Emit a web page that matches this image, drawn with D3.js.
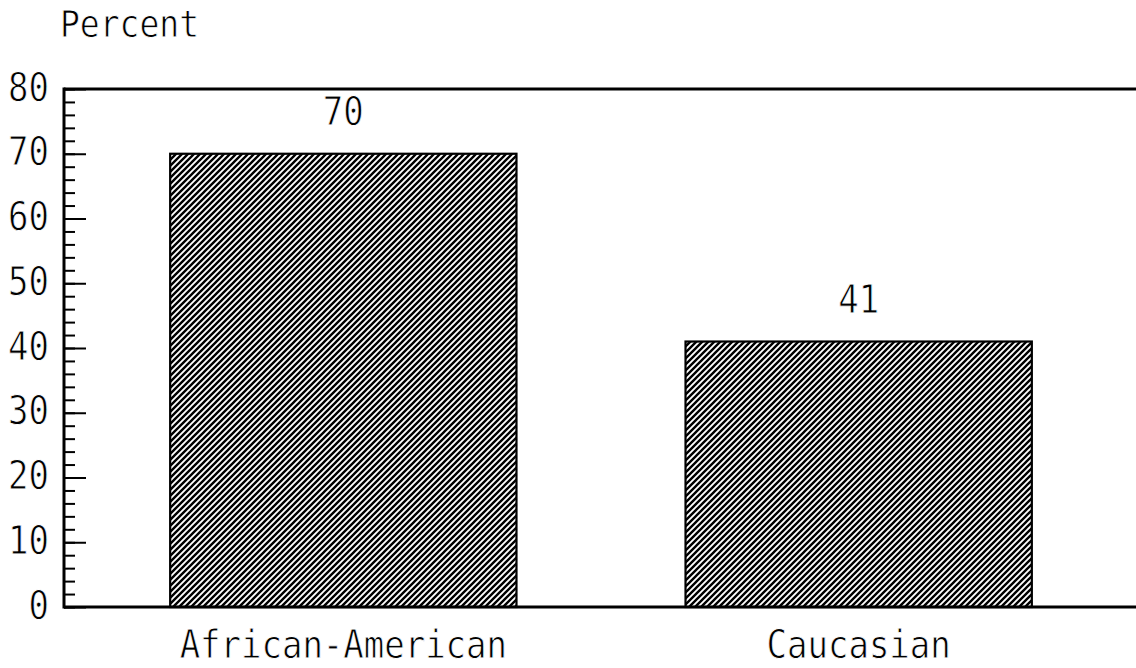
<!DOCTYPE html>
<html>
<head>
<meta charset="utf-8">
<script src="https://cdn.jsdelivr.net/npm/d3@7"></script>
<style>
  html, body { margin: 0; padding: 0; background: #fff; }
  svg { display: block; }
  text { font-family: "DejaVu Sans Mono", monospace; fill: #000; stroke: #fff; stroke-width: 0.7px; }
</style>
</head>
<body>
<svg id="chart" width="1136" height="668"></svg>
<script>
const categories = ["African-American", "Caucasian"];
const values = [70, 41];
const yTicks = [0, 10, 20, 30, 40, 50, 60, 70, 80];
const yMinorTicks = d3.range(0, 81, 2);
const yLabel = "Percent";

const svg = d3.select("#chart");
const W = 1136, H = 668;
const padL = 64, plotR = 1136, plotT = 89, plotB = 607;
const stretch = 1.14;
const fs = 34;

const y = d3.scaleLinear().domain([0, 80]).range([plotB, plotT]);
const x = d3.scaleBand().domain(categories).range([padL, plotR + 2])
  .paddingInner(0.328).paddingOuter(0.206);

// hatch pattern
const P = 6;
const defs = svg.append("defs");
const pat = defs.append("pattern").attr("id", "hatch")
  .attr("patternUnits", "userSpaceOnUse").attr("width", P).attr("height", P);
pat.append("rect").attr("width", P).attr("height", P).attr("fill", "#fff");
pat.append("path").attr("d", `M-1,${P+1} L${P+1},-1 M-2,2 L2,-2 M${P-2},${P+2} L${P+2},${P-2}`)
  .attr("stroke", "#000").attr("stroke-width", 2.4);

// bars
svg.append("g").selectAll("rect").data(categories).join("rect")
  .attr("x", d => x(d))
  .attr("y", (d, i) => y(values[i]))
  .attr("width", x.bandwidth())
  .attr("height", (d, i) => y(0) - y(values[i]))
  .attr("fill", "url(#hatch)")
  .attr("stroke", "#000").attr("stroke-width", 2.2);

// value labels
svg.append("g").selectAll("text").data(categories).join("text")
  .attr("transform", (d, i) => `translate(${x(d) + x.bandwidth() / 2},${y(values[i]) - 29}) scale(1,${stretch})`)
  .attr("text-anchor", "middle")
  .attr("font-size", fs)
  .text((d, i) => values[i]);

// minor ticks (pointing inward)
const minorAxis = svg.append("g").attr("transform", `translate(${padL},0)`)
  .call(d3.axisRight(y).tickValues(yMinorTicks).tickSize(11).tickFormat(""));
minorAxis.select(".domain").remove();
minorAxis.selectAll("line").attr("stroke", "#000").attr("stroke-width", 2);

// major ticks (pointing inward)
const majorAxis = svg.append("g").attr("transform", `translate(${padL},0)`)
  .call(d3.axisRight(y).tickValues(yTicks).tickSize(22).tickFormat(""));
majorAxis.select(".domain").remove();
majorAxis.selectAll("line").attr("stroke", "#000").attr("stroke-width", 2);

// tick labels
const labelAxis = svg.append("g").attr("transform", `translate(${padL},0)`)
  .call(d3.axisLeft(y).tickValues(yTicks).tickSize(0).tickPadding(15).tickFormat(d3.format("d")));
labelAxis.select(".domain").remove();
labelAxis.selectAll("text")
  .attr("font-family", "DejaVu Sans Mono, monospace")
  .attr("font-size", fs).attr("fill", "#000")
  .attr("dy", null).attr("y", 0)
  .attr("transform", `translate(0,11) scale(1,${stretch})`);

// frame: left axis, top line, baseline
svg.append("line").attr("x1", padL).attr("x2", padL).attr("y1", plotT - 1.5).attr("y2", plotB + 1.5)
  .attr("stroke", "#000").attr("stroke-width", 3);
svg.append("line").attr("x1", padL).attr("x2", W).attr("y1", plotT).attr("y2", plotT)
  .attr("stroke", "#000").attr("stroke-width", 3);
svg.append("line").attr("x1", padL).attr("x2", W).attr("y1", plotB).attr("y2", plotB)
  .attr("stroke", "#000").attr("stroke-width", 3);

// category labels
svg.append("g").selectAll("text").data(categories).join("text")
  .attr("transform", d => `translate(${x(d) + x.bandwidth() / 2},658) scale(1,${stretch})`)
  .attr("text-anchor", "middle")
  .attr("font-size", fs)
  .text(d => d);

// y-axis title
svg.append("text").attr("transform", `translate(60,37) scale(1,${stretch})`)
  .attr("font-size", 33).text(yLabel);
</script>
</body>
</html>
